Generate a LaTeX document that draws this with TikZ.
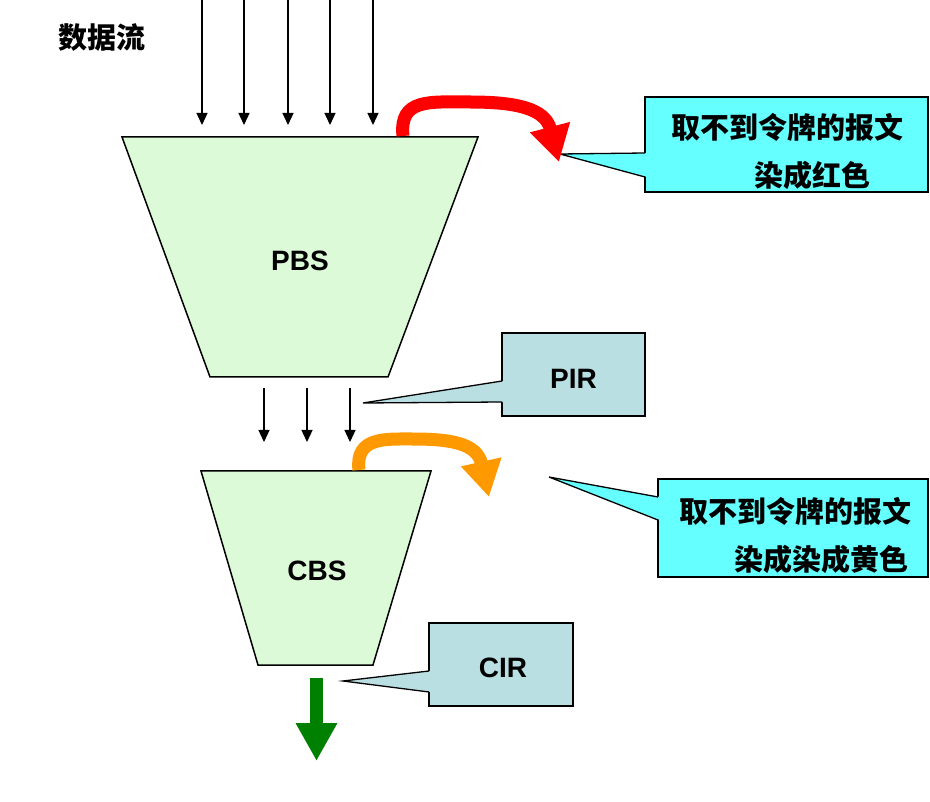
\documentclass[tikz,border=0pt]{standalone}
\usepackage{fontspec}
\setmainfont{Liberation Sans}
\newfontfamily\cjk{Noto Sans CJK SC}
\usetikzlibrary{arrows.meta,calc}

\definecolor{bucketgreen}{RGB}{220,250,215}
\definecolor{notecyan}{RGB}{102,255,255}
\definecolor{ratebox}{RGB}{185,223,227}
\definecolor{dropred}{RGB}{255,0,0}
\definecolor{markorange}{RGB}{255,153,0}
\definecolor{passgreen}{RGB}{0,128,0}

\tikzset{
	bucket/.style={draw=black, line width=1.5pt, fill=bucketgreen},
	bucketname/.style={font=\bfseries\fontsize{28}{32}\selectfont},
	cjktext/.style={font=\cjk\bfseries\fontsize{29}{48}\selectfont, align=center},
	flow/.style={line width=1.3pt, -{Triangle[length=12pt,width=11pt]}},
	recolor/.style={line width=13pt, -{Triangle[length=36pt,width=39pt]}},
	notebox/.style={draw=black, line width=1.6pt, inner sep=0pt, outer sep=0pt},
	pointer/.style={draw=black, line width=1.3pt, line join=miter},
}

\begin{document}
\begin{tikzpicture}[x=1pt, y=-1pt]
	\useasboundingbox (0,0) rectangle (930,802);

	% incoming packets
	\node[cjktext] (data) at (102,38) {数据流};
	\foreach \x in {202,244,288,330,373}
		\draw[flow] (\x,0) -- (\x,125);

	% PBS bucket
	\draw[bucket] (122,137) -- (478,137) -- (388,377) -- (210,377) -- cycle;
	\node[bucketname] (pbs) at (300,261) {PBS};

	\foreach \x in {264,307,350}
		\draw[flow] (\x,388) -- (\x,442);

	% CBS bucket
	\draw[bucket] (201,471) -- (431,471) -- (373,665) -- (258,665) -- cycle;
	\node[bucketname] (cbs) at (317,571) {CBS};

	% callouts
	\node[notebox, fill=notecyan, minimum width=283pt, minimum height=95pt] (rednote) at (786.5,144.5) {};
	\node[notebox, fill=notecyan, minimum width=270pt, minimum height=98pt] (yellownote) at (793,528) {};
	\node[notebox, fill=ratebox, minimum width=143pt, minimum height=83pt] (pir) at (573.5,374.5) {};
	\node[notebox, fill=ratebox, minimum width=144pt, minimum height=83pt] (cir) at (501,664.5) {};

	\coordinate (redtip) at (560,154);
	\coordinate (yellowtip) at (549,477);
	\coordinate (pirtip) at (363,403);
	\coordinate (cirtip) at (343,681);

	\fill[notecyan] (redtip) -- ($(rednote.north west)+(2,56)$) -- ($(rednote.north west)+(2,80)$) -- cycle;
	\draw[pointer] ($(rednote.north west)+(0,56)$) -- (redtip) -- ($(rednote.north west)+(0,80)$);

	\fill[notecyan] (yellowtip) -- ($(yellownote.north west)+(2,18)$) -- ($(yellownote.north west)+(2,41)$) -- cycle;
	\draw[pointer] ($(yellownote.north west)+(0,18)$) -- (yellowtip) -- ($(yellownote.north west)+(0,41)$);

	\fill[ratebox] (pirtip) -- ($(pir.north west)+(2,48)$) -- ($(pir.north west)+(2,69)$) -- cycle;
	\draw[pointer] ($(pir.north west)+(0,48)$) -- (pirtip) -- ($(pir.north west)+(0,69)$);

	\fill[ratebox] (cirtip) -- ($(cir.north west)+(2,48)$) -- ($(cir.north west)+(2,69)$) -- cycle;
	\draw[pointer] ($(cir.north west)+(0,48)$) -- (cirtip) -- ($(cir.north west)+(0,69)$);

	\node[cjktext] (redtext) at ($(rednote.center)+(0.5,7.5)$) {取不到令牌的报文\\\hspace*{50pt}染成红色};
	\node[cjktext] (yellowtext) at ($(yellownote.center)+(2,8)$) {取不到令牌的报文\\\hspace*{52pt}染成染成黄色};
	\node[bucketname] (pirtext) at ($(pir.center)+(0,4.5)$) {PIR};
	\node[bucketname] (cirtext) at ($(cir.center)+(2,3.5)$) {CIR};

	% marking arrows
	\coordinate (redstart) at (403,136);
	\coordinate (redend) at (559,162);
	\draw[recolor, dropred] (redstart) .. controls (399,98) and (430,102) .. (470,102) .. controls (515,102) and (545,108) .. (redend);

	\coordinate (orangestart) at (359,470);
	\coordinate (orangeend) at (489,497);
	\draw[recolor, markorange] (orangestart) .. controls (355,437) and (385,439) .. (412,439) .. controls (450,439) and (477,443) .. (orangeend);

	\coordinate (cbsout) at (316.5,678);
	\coordinate (passend) at (316.5,761);
	\draw[line width=13pt, passgreen, -{Triangle[length=38pt,width=39pt]}] (cbsout) -- (passend);

\end{tikzpicture}
\end{document}
